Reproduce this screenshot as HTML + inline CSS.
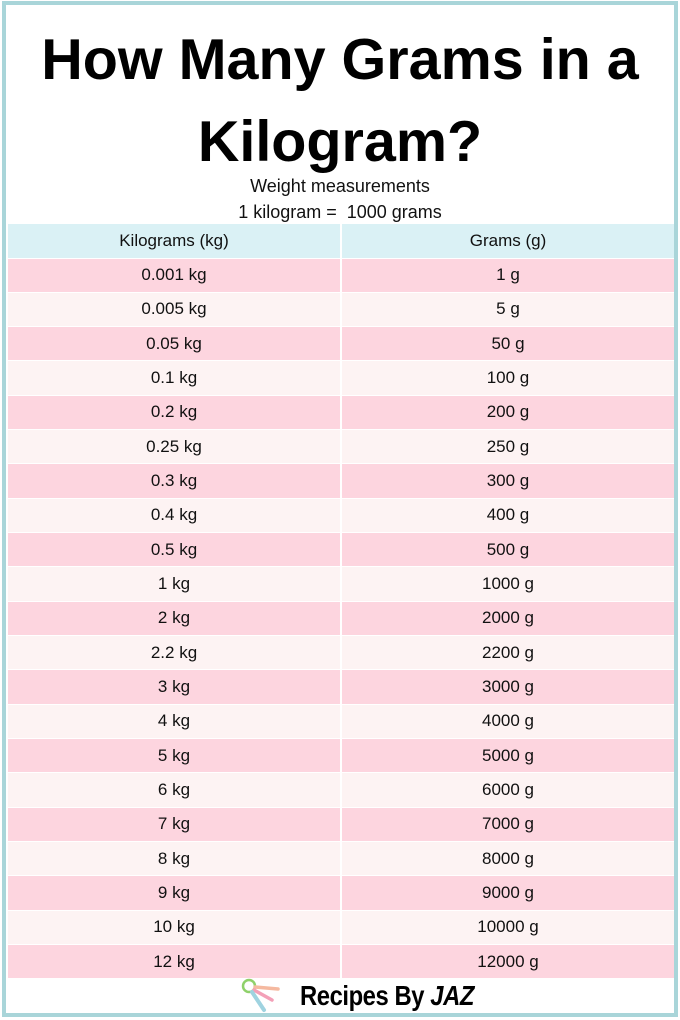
<!DOCTYPE html>
<html><head><meta charset="utf-8"><style>
*{margin:0;padding:0;box-sizing:border-box}
body{width:680px;height:1020px;background:#fff;position:relative;font-family:"Liberation Sans",sans-serif;overflow:hidden}
.frame{position:absolute;left:2px;top:1px;width:676px;height:1016px;border:4px solid #a9d5d9}
h1{position:absolute;left:0;width:680px;text-align:center;font-size:57.5px;font-weight:bold;line-height:82px;top:19px;color:#000}
.sub{position:absolute;left:0;width:680px;text-align:center;font-size:18px;line-height:26px;top:173px;color:#111}
table{position:absolute;left:8px;top:224px;width:666px;border-collapse:collapse}
td{height:34.33px;text-align:center;font-size:17px;color:#111;width:333px;border-bottom:1px solid #fff}
td:first-child{border-right:2px solid #fff}
tr.h td{background:#daf1f5;height:34px}
tr:nth-child(even) td{background:#fdd5df}
tr:nth-child(odd):not(.h) td{background:#fdf3f3}
.logo{position:absolute;top:976px;left:240px;height:40px;display:flex;align-items:center}
.logo span{font-size:28px;font-weight:bold;margin-left:14px;letter-spacing:-0.5px;transform:scaleX(0.85);transform-origin:left;display:inline-block}
</style></head><body>
<div class="frame"></div>
<h1>How Many Grams in a<br>Kilogram?</h1>
<div class="sub">Weight measurements<br>1 kilogram = &nbsp;1000 grams</div>
<table>
<tr class="h"><td>Kilograms (kg)</td><td>Grams (g)</td></tr>
<tr><td>0.001 kg</td><td>1 g</td></tr>
<tr><td>0.005 kg</td><td>5 g</td></tr>
<tr><td>0.05 kg</td><td>50 g</td></tr>
<tr><td>0.1 kg</td><td>100 g</td></tr>
<tr><td>0.2 kg</td><td>200 g</td></tr>
<tr><td>0.25 kg</td><td>250 g</td></tr>
<tr><td>0.3 kg</td><td>300 g</td></tr>
<tr><td>0.4 kg</td><td>400 g</td></tr>
<tr><td>0.5 kg</td><td>500 g</td></tr>
<tr><td>1 kg</td><td>1000 g</td></tr>
<tr><td>2 kg</td><td>2000 g</td></tr>
<tr><td>2.2 kg</td><td>2200 g</td></tr>
<tr><td>3 kg</td><td>3000 g</td></tr>
<tr><td>4 kg</td><td>4000 g</td></tr>
<tr><td>5 kg</td><td>5000 g</td></tr>
<tr><td>6 kg</td><td>6000 g</td></tr>
<tr><td>7 kg</td><td>7000 g</td></tr>
<tr><td>8 kg</td><td>8000 g</td></tr>
<tr><td>9 kg</td><td>9000 g</td></tr>
<tr><td>10 kg</td><td>10000 g</td></tr>
<tr><td>12 kg</td><td>12000 g</td></tr>
</table>
<div class="logo">
<svg width="46" height="36" viewBox="0 0 46 36"><circle cx="9" cy="8" r="6" fill="none" stroke="#8fd16a" stroke-width="2.5"/><path d="M15 9 L38 11" stroke="#f5b9a0" stroke-width="3.5" stroke-linecap="round"/><path d="M14 12 L32 22" stroke="#f3a0b8" stroke-width="3.5" stroke-linecap="round"/><path d="M12 14 L24 32" stroke="#9fd3e0" stroke-width="4" stroke-linecap="round"/></svg>
<span>Recipes By <i>JAZ</i></span>
</div>
</body></html>
